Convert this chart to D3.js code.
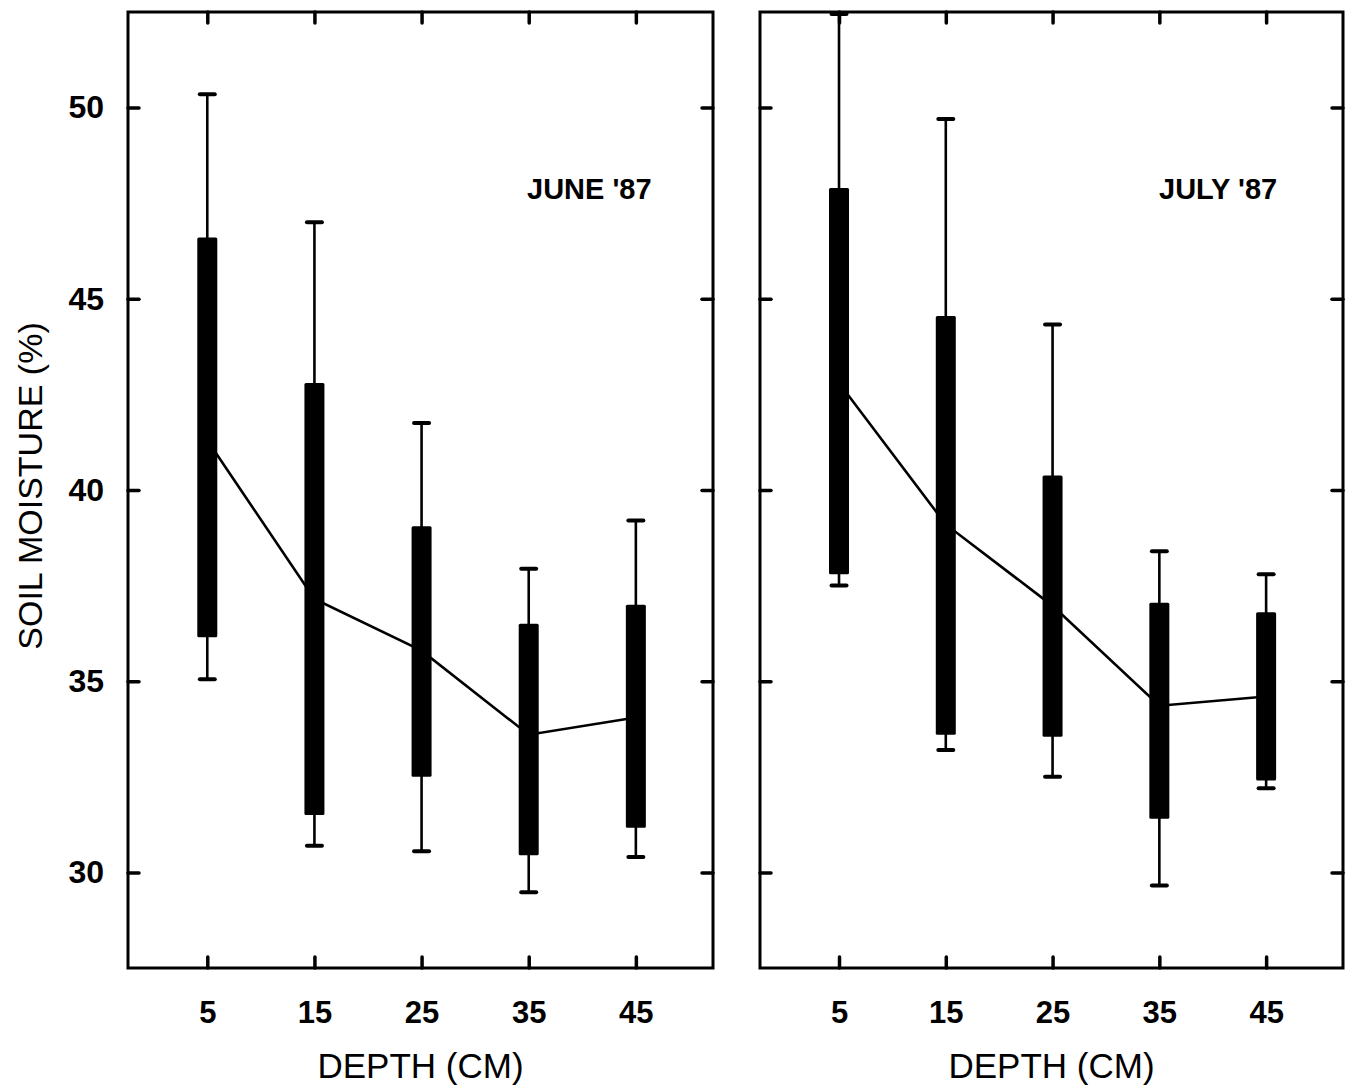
<!DOCTYPE html>
<html>
<head>
<meta charset="utf-8">
<script src="https://cdn.jsdelivr.net/npm/d3@7"></script>
<style>
  body { margin: 0; background: #fff; }
  svg { display: block; }
  text { font-family: "Liberation Sans", Arial, Helvetica, sans-serif; fill: #000; }
</style>
</head>
<body>
<svg id="chart" width="1354" height="1087"></svg>
<script>
// Sampling depths and axis ticks
const depths = [5, 15, 25, 35, 45];
const depthTicks = [5, 15, 25, 35, 45];
const moistureTicks = [30, 35, 40, 45, 50];

// June 1987: mean, box range and whisker range of soil moisture (%)
const juneMean = [41.3, 37.15, 35.8, 33.6, 34.05];
const juneBoxLow = [36.15, 31.5, 32.5, 30.45, 31.17];
const juneBoxHigh = [46.6, 42.8, 39.05, 36.5, 37.0];
const juneWhiskerLow = [35.05, 30.7, 30.55, 29.48, 30.4];
const juneWhiskerHigh = [50.35, 47.0, 41.75, 37.94, 39.2];

// July 1987
const julyMean = [42.8, 39.1, 36.97, 34.36, 34.6];
const julyBoxLow = [37.8, 33.6, 33.55, 31.4, 32.4];
const julyBoxHigh = [47.9, 44.55, 40.38, 37.05, 36.8];
const julyWhiskerLow = [37.5, 33.2, 32.5, 29.66, 32.2];
const julyWhiskerHigh = [52.45, 49.7, 44.33, 38.4, 37.8];

const panelLabels = ["JUNE '87", "JULY '87"];
const xTitle = "DEPTH (CM)";
const yTitle = "SOIL MOISTURE (%)";

const svg = d3.select("#chart");

const plotTop = 12, plotBottom = 968;
const panels = [
  { x0: 128, x1: 713, label: panelLabels[0], mean: juneMean, boxLow: juneBoxLow, boxHigh: juneBoxHigh, wLow: juneWhiskerLow, wHigh: juneWhiskerHigh },
  { x0: 760, x1: 1343, label: panelLabels[1], mean: julyMean, boxLow: julyBoxLow, boxHigh: julyBoxHigh, wLow: julyWhiskerLow, wHigh: julyWhiskerHigh }
];

const y = d3.scaleLinear().domain([27.5, 52.5]).range([plotBottom, plotTop]);

const boxWidth = 20;
const capWidth = 15;

panels.forEach((p, pi) => {
  const x = d3.scaleLinear().domain([-2.4, 52.2]).range([p.x0, p.x1]);
  const g = svg.append("g");

  const rows = depths.map((d, i) => ({
    depth: d, mean: p.mean[i], lo: p.boxLow[i], hi: p.boxHigh[i], wlo: p.wLow[i], whi: p.wHigh[i]
  }));

  // mean profile line (drawn first so the boxes sit over it)
  g.append("path")
    .datum(rows)
    .attr("fill", "none")
    .attr("stroke", "#000")
    .attr("stroke-width", 2.6)
    .attr("d", d3.line().x(r => x(r.depth)).y(r => y(r.mean)));

  // whiskers
  g.selectAll(".whisker").data(rows).join("line")
    .attr("class", "whisker")
    .attr("x1", r => x(r.depth)).attr("x2", r => x(r.depth))
    .attr("y1", r => y(r.wlo)).attr("y2", r => y(r.whi))
    .attr("stroke", "#000").attr("stroke-width", 2.6);

  // whisker caps
  const caps = rows.flatMap(r => [r.wlo, r.whi].map(v => ({ depth: r.depth, v })));
  g.selectAll(".cap").data(caps).join("line")
    .attr("class", "cap")
    .attr("x1", c => x(c.depth) - capWidth / 2).attr("x2", c => x(c.depth) + capWidth / 2)
    .attr("y1", c => y(c.v)).attr("y2", c => y(c.v))
    .attr("stroke", "#000").attr("stroke-width", 4).attr("stroke-linecap", "round");

  // filled boxes
  g.selectAll(".box").data(rows).join("rect")
    .attr("class", "box")
    .attr("x", r => x(r.depth) - boxWidth / 2)
    .attr("width", boxWidth)
    .attr("y", r => y(r.hi))
    .attr("height", r => y(r.lo) - y(r.hi))
    .attr("rx", 1.5)
    .attr("fill", "#000");

  // axes: inward ticks on all four sides, labels on bottom and left only
  const styleAxis = sel => {
    sel.select(".domain").remove();
    sel.selectAll(".tick line").attr("stroke", "#000").attr("stroke-width", 3.5).attr("stroke-linecap", "round");
  };

  g.append("g").attr("transform", `translate(0,${plotBottom})`)
    .call(d3.axisBottom(x).tickValues(depthTicks).tickSize(-11).tickPadding(33).tickFormat(d3.format("d")))
    .call(styleAxis)
    .call(s => s.selectAll("text").attr("font-size", 31).attr("font-weight", "bold").attr("font-family", '"Liberation Sans", Arial, sans-serif'));

  g.append("g").attr("transform", `translate(0,${plotTop})`)
    .call(d3.axisTop(x).tickValues(depthTicks).tickSize(-11).tickFormat(""))
    .call(styleAxis);

  const left = g.append("g").attr("transform", `translate(${p.x0},0)`)
    .call(d3.axisLeft(y).tickValues(moistureTicks).tickSize(-11).tickPadding(pi === 0 ? 24 : 0).tickFormat(pi === 0 ? d3.format("d") : ""))
    .call(styleAxis);
  left.selectAll("text").attr("font-size", 32).attr("font-weight", "bold").attr("font-family", '"Liberation Sans", Arial, sans-serif');

  g.append("g").attr("transform", `translate(${p.x1},0)`)
    .call(d3.axisRight(y).tickValues(moistureTicks).tickSize(-11).tickFormat(""))
    .call(styleAxis);

  // frame
  g.append("rect")
    .attr("x", p.x0).attr("y", plotTop)
    .attr("width", p.x1 - p.x0).attr("height", plotBottom - plotTop)
    .attr("fill", "none").attr("stroke", "#000").attr("stroke-width", 3);

  // panel label
  g.append("text")
    .attr("x", p.x0 + 399).attr("y", 199)
    .attr("font-size", 29).attr("font-weight", "bold")
    .text(p.label);

  // x-axis title
  g.append("text")
    .attr("x", (p.x0 + p.x1) / 2).attr("y", 1078)
    .attr("text-anchor", "middle")
    .attr("font-size", 35)
    .text(xTitle);
});

// y-axis title
svg.append("text")
  .attr("transform", `translate(42,${(plotTop + plotBottom) / 2 - 4}) rotate(-90)`)
  .attr("text-anchor", "middle")
  .attr("font-size", 34)
  .text(yTitle);
</script>
</body>
</html>
